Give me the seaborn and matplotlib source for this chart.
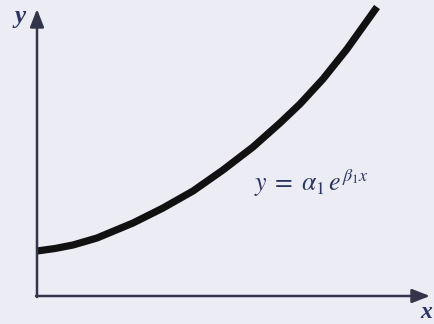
import matplotlib
matplotlib.use("Agg")
import matplotlib.pyplot as plt
import seaborn as sns
import pandas as pd

# Points along the growth curve (horizontal position, height above the x-axis)
t = [0, 18, 36, 60, 96, 126, 156, 186, 216, 243, 263, 286, 310, 340]
level = [45, 47.5, 51, 58, 73, 88, 105, 126, 149, 173, 192, 217, 247, 289]

axis_label_x = "x"
axis_label_y = "y"
equation = r"$y\;=\;\alpha_1\, e^{\beta_1 x}$"

bg = "#ECECF5"
ink = "#2A3562"
axis_col = "#33364A"

sns.set_theme(style="white")
plt.rcParams["mathtext.fontset"] = "stix"

fig = plt.figure(figsize=(4.35, 3.24), dpi=100, facecolor=bg)
ax = fig.add_axes([0, 0, 1, 1])
ax.set_facecolor(bg)
ax.set_xlim(-37, 398)
ax.set_ylim(-28, 296)
for s in ax.spines.values():
    s.set_visible(False)
ax.set_xticks([])
ax.set_yticks([])

# Coordinate axes with arrow heads
arrow = dict(arrowstyle="-|>,head_length=0.9,head_width=0.35", color=axis_col, lw=1.8,
             shrinkA=0, shrinkB=0)
ax.annotate("", xy=(0, 287), xytext=(0, -1), arrowprops=arrow)
ax.annotate("", xy=(393, 0), xytext=(-1, 0), arrowprops=arrow)

df = pd.DataFrame({"t": t, "level": level})
sns.lineplot(data=df, x="t", y="level", ax=ax, color="#111111", lw=5.2,
             solid_capstyle="butt")
ax.set_xlabel("")
ax.set_ylabel("")

ax.text(-17, 279, axis_label_y, fontsize=18, style="italic", weight="bold",
        family="Liberation Serif", color=ink, ha="center", va="center")
ax.text(389, -17, axis_label_x, fontsize=17, style="italic", weight="bold",
        family="Liberation Serif", color=ink, ha="center", va="center")
ax.text(217, 113, equation, fontsize=18.5, color=ink, ha="left", va="center")

fig.savefig("out.png", dpi=100, facecolor=bg)
